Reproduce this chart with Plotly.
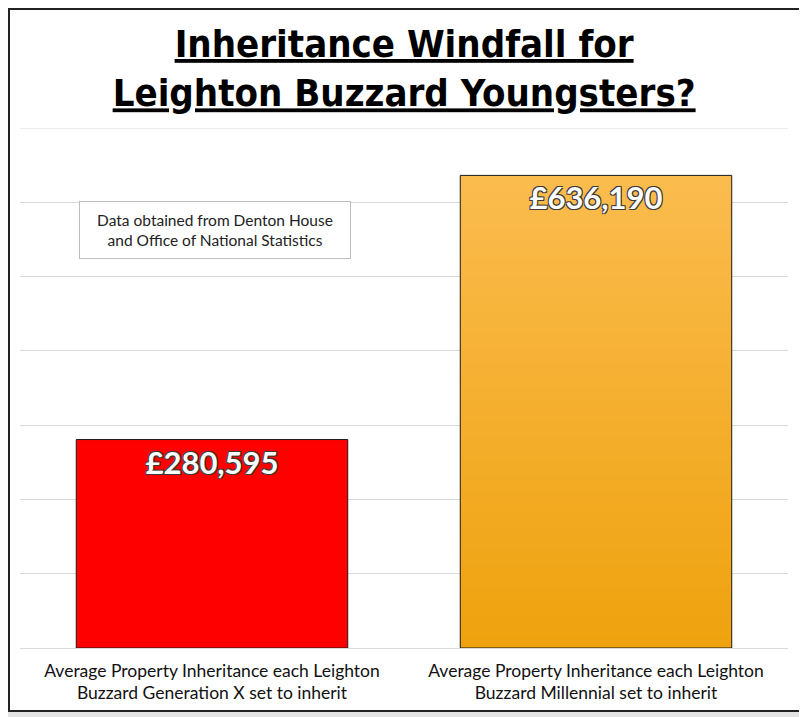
import plotly.graph_objects as go

# ---- data ----
categories = [
    "Average Property Inheritance each Leighton<br>Buzzard Generation X set to inherit",
    "Average Property Inheritance each Leighton<br>Buzzard Millennial set to inherit",
]
values = [280595, 636190]
value_labels = ["£280,595", "£636,190"]
axis_max = 700000
axis_step = 100000
title_text = "Inheritance Windfall for<br>Leighton Buzzard Youngsters?"
note_text = "Data obtained from Denton House<br>and Office of National Statistics"

OFF = 8  # page body margin
W, H = 807 - OFF, 717 - OFF
L, R, T, B = 20 - OFF, 807 - 788.5, 128 - OFF, 717 - 648
pw, ph = W - L - R, H - T - B

def px_x(p):  # p in page pixels
    return (p - OFF - L) / pw

def px_y(p):
    return (H - B - (p - OFF)) / ph

fig = go.Figure()

# gradient fill for the second bar, built as stacked slices of its own value
N = 90
top_rgb = (251, 188, 78)
bot_rgb = (239, 162, 14)
seg_base, seg_h, seg_col = [], [], []
v2 = values[1]
for i in range(N):
    t = i / (N - 1)
    c = tuple(round(bot_rgb[k] + (top_rgb[k] - bot_rgb[k]) * t) for k in range(3))
    seg_base.append(v2 * i / N)
    seg_h.append(min(v2 * 1.6 / N, v2 - v2 * i / N))
    seg_col.append("rgb(%d,%d,%d)" % c)
fig.add_trace(go.Bar(
    x=[categories[1]] * N, y=seg_h, base=seg_base,
    marker=dict(color=seg_col, line=dict(width=0)),
    hoverinfo="skip", showlegend=False,
))

fig.add_trace(go.Bar(
    x=categories, y=values,
    marker=dict(color=["#ff0000", "rgba(0,0,0,0)"], line=dict(color="#1a1a1a", width=1)),
    text=value_labels, textposition="inside", insidetextanchor="end",
    textangle=0,
    textfont=dict(family="Lato", size=31, color="white", weight="bold",
                  shadow="1px 1px 0 #3a3a3a, -1px -1px 0 #3a3a3a, 1px -1px 0 #3a3a3a, -1px 1px 0 #3a3a3a"),
    showlegend=False,
))

fig.update_layout(
    width=W, height=H,
    margin=dict(l=L, r=R, t=T, b=B),
    barmode="overlay", bargap=0.293,
    paper_bgcolor="#e3e3e3", plot_bgcolor="rgba(0,0,0,0)",
    title=dict(
        text=title_text, x=px_x(401), xanchor="center",
        y=1 - (57 - OFF) / H, yanchor="top",
        font=dict(family="Liberation Sans Narrow, DejaVu Sans Condensed, Roboto", size=38,
                  color="black", weight="bold", lineposition="under"),
    ),
    xaxis=dict(showgrid=False, showline=False, zeroline=False, ticks="",
               categoryorder="array", categoryarray=categories,
               ticklabelstandoff=10,
               tickfont=dict(family="Lato", size=17.5, color="#111")),
    yaxis=dict(range=[0, axis_max], dtick=axis_step, showticklabels=False,
               showgrid=True, gridcolor="#d9d9d9", gridwidth=1,
               zeroline=True, zerolinecolor="#d9d9d9", zerolinewidth=1),
    uniformtext=dict(minsize=10, mode="show"),
    shapes=[
        dict(type="rect", xref="paper", yref="paper",
             x0=px_x(OFF + 1), x1=px_x(801), y0=px_y(711), y1=px_y(OFF + 1),
             fillcolor="white", line=dict(color="#222", width=2), layer="below"),
        dict(type="line", xref="paper", yref="y", x0=0, x1=1, y0=axis_max, y1=axis_max,
             line=dict(color="#d9d9d9", width=1), layer="below"),
    ],
    annotations=[dict(
        text=note_text, xref="paper", yref="paper",
        x=px_x(215), y=px_y(230), xanchor="center", yanchor="middle",
        showarrow=False, align="center",
        font=dict(family="Lato", size=15.5, color="#222"),
        bordercolor="#bdbdbd", borderwidth=1, borderpad=6, bgcolor="white",
        width=258, height=44,
    )],
)

fig.write_html("out.html")
